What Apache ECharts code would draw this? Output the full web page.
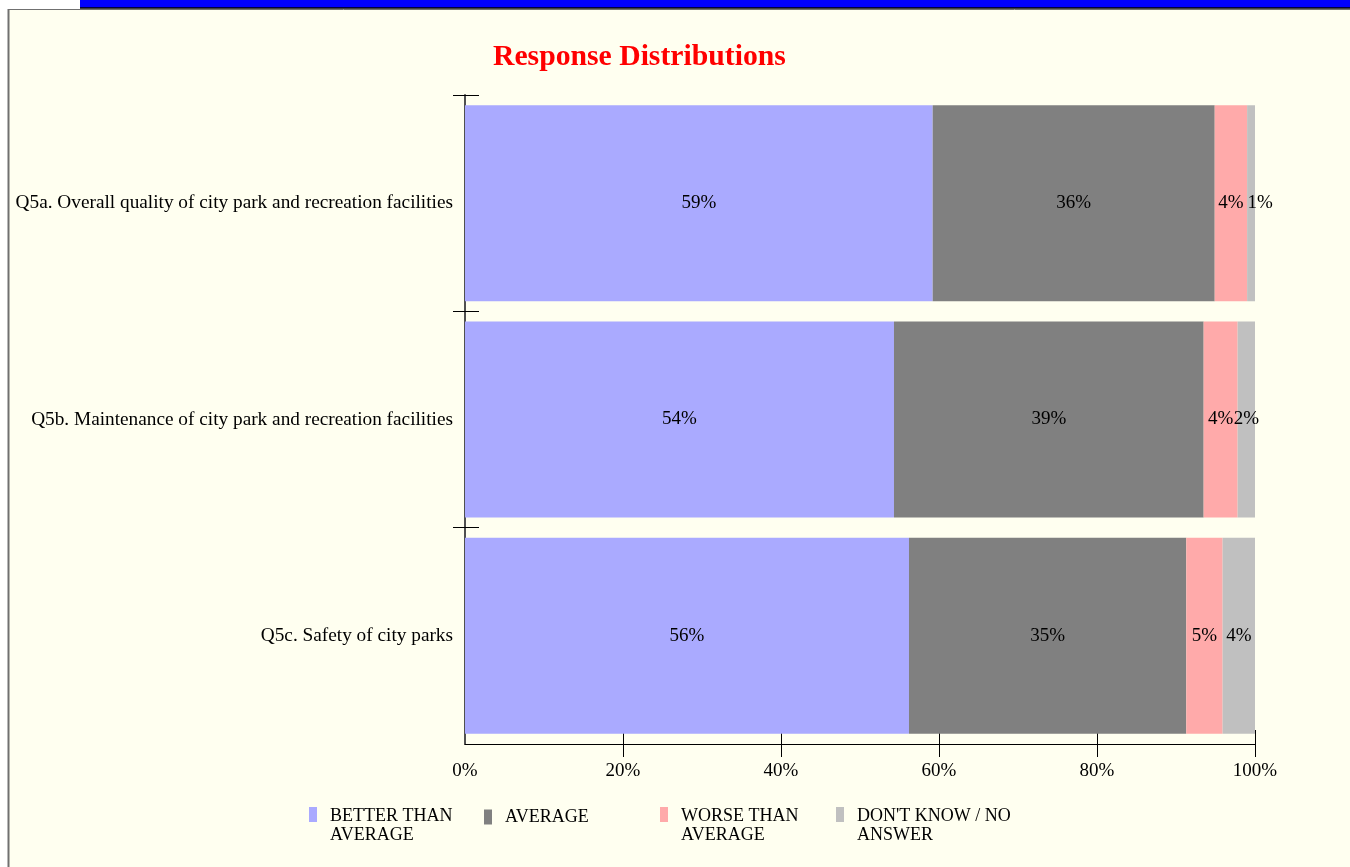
<!DOCTYPE html>
<html><head><meta charset="utf-8">
<script src="https://cdn.jsdelivr.net/npm/echarts@6/dist/echarts.min.js"></script>
<style>html,body{margin:0;padding:0;background:#fff}#c{width:1350px;height:867px}</style>
</head><body><div id="c"></div>
<script>
var categories = ['Q5a. Overall quality of city park and recreation facilities',
  'Q5b. Maintenance of city park and recreation facilities',
  'Q5c. Safety of city parks'];
var seriesNames = ['BETTER THAN\nAVERAGE', 'AVERAGE', 'WORSE THAN\nAVERAGE', "DON'T KNOW / NO\nANSWER"];
var better = [59.2, 54.3, 56.2];
var average = [35.7, 39.2, 35.1];
var worse = [4.1, 4.3, 4.6];
var dontKnow = [1.0, 2.2, 4.1];
var xTicks = [0, 20, 40, 60, 80, 100];
var colors = ['#AAAAFF', '#808080', '#FFAAAA', '#C0C0C0'];

var font = 'Liberation Serif';
var values = [better, average, worse, dontKnow];
var series = values.map(function (v, i) {
  return {
    name: seriesNames[i], type: 'bar', stack: 'all',
    data: v.map(function (val, j) {
      var item = { value: val };
      if (i === 3 && val < 1.5) { item.label = { offset: [9, 0] }; }
      return item;
    }),
    xAxisIndex: 0, yAxisIndex: 0,
    barCategoryGap: '9.4%',
    itemStyle: { color: colors[i] },
    label: { show: true, position: 'inside', color: '#000', fontFamily: font, fontSize: 19,
      formatter: function (p) { return Math.round(p.value) + '%'; } }
  };
});
var legendLefts = [309, 484, 660, 836];
var legends = seriesNames.map(function (n, i) {
  var twoLine = n.indexOf('\n') >= 0;
  return {
    data: [n], left: legendLefts[i], top: twoLine ? 807 : 807.5, orient: 'horizontal',
    itemWidth: 8, itemHeight: twoLine ? 38 : 15,
    icon: twoLine ? 'path://M0,0h8v15h-8z M0,37.99h0.01v0.01h-0.01z' : 'rect',
    selectedMode: false, padding: 0,
    textStyle: { fontFamily: font, fontSize: 18, color: '#000', lineHeight: 19,
      padding: [0, 0, 0, 8] }
  };
});
var gridBox = { left: 465, top: 95, width: 790, height: 649 };
function g() { return { left: gridBox.left, top: gridBox.top, width: gridBox.width, height: gridBox.height }; }
var tickX = xTicks.filter(function (t) { return t > 0; });
var tickY = [0, 1, 2];
var option = {
  backgroundColor: '#ffffff',
  animation: false,
  title: { text: 'Response Distributions', left: 493, top: 42, padding: 0,
    textStyle: { color: '#FF0000', fontFamily: font, fontSize: 29.7, fontWeight: 'bold' } },
  graphic: [
    { type: 'rect', shape: { x: 8, y: 9, width: 1342, height: 858 },
      style: { fill: '#FFFFF0', stroke: null }, z: -10 },
    { type: 'line', shape: { x1: 8.5, y1: 9, x2: 8.5, y2: 867 }, style: { stroke: '#707070', lineWidth: 2 }, z: -9 },
    { type: 'line', shape: { x1: 8, y1: 9.5, x2: 1350, y2: 9.5 }, style: { stroke: '#707070', lineWidth: 1 }, z: -9 },
    { type: 'rect', shape: { x: 80, y: 0, width: 1270, height: 8 }, style: { fill: '#0000FF' }, z: -9 },
    { type: 'line', shape: { x1: 80, y1: 8, x2: 1350, y2: 8 }, style: { stroke: '#000', lineWidth: 1.5 }, z: -9 }
  ],
  legend: legends,
  grid: [g(), g(), g()],
  xAxis: [
    { type: 'value', gridIndex: 0, min: 0, max: 100, interval: 20,
      axisLine: { show: true, onZero: false, lineStyle: { color: '#000', width: 1 } },
      axisTick: { show: true, inside: false, length: 13, customValues: tickX, lineStyle: { color: '#000' } },
      axisLabel: { show: true, margin: 18, fontFamily: font, fontSize: 19, color: '#000', formatter: '{value}%', customValues: xTicks },
      splitLine: { show: false } },
    { type: 'value', gridIndex: 1, min: 0, max: 100, interval: 20, position: 'bottom',
      axisLine: { show: false, onZero: false },
      axisTick: { show: true, inside: true, length: 14, customValues: tickX, lineStyle: { color: '#000' } },
      axisLabel: { show: false }, splitLine: { show: false } },
    { type: 'value', gridIndex: 2, min: 0, max: 100, show: false }
  ],
  yAxis: [
    { type: 'category', gridIndex: 0, data: categories, inverse: true,
      axisLine: { show: true, lineStyle: { color: '#505050', width: 2 } },
      axisTick: { show: false },
      axisLabel: { margin: 12, fontFamily: font, fontSize: 19.3, color: '#000' } },
    { type: 'value', gridIndex: 1, min: 0, max: 3, interval: 1, inverse: true, position: 'left',
      axisLine: { show: false, onZero: false }, axisLabel: { show: false }, splitLine: { show: false },
      axisTick: { show: true, inside: false, length: 12, customValues: tickY, lineStyle: { color: '#000' } } },
    { type: 'value', gridIndex: 2, min: 0, max: 3, interval: 1, inverse: true, position: 'left',
      axisLine: { show: false, onZero: false }, axisLabel: { show: false }, splitLine: { show: false },
      axisTick: { show: true, inside: true, length: 14, customValues: tickY, lineStyle: { color: '#000' } } }
  ],
  series: series
};
var chart = echarts.init(document.getElementById('c'), null, { renderer: 'canvas' });
chart.setOption(option);
</script></body></html>
